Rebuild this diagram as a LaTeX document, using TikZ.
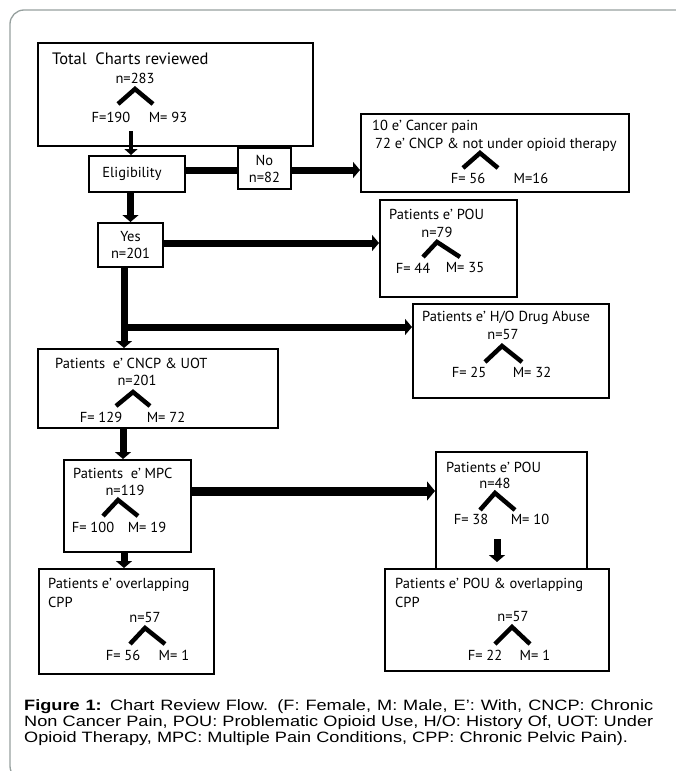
\documentclass[tikz,border=0pt]{standalone}
\usepackage{fontspec}
\setmainfont{PT Sans}
\newfontfamily\capfont[FakeStretch=1.21]{Liberation Sans}
\usetikzlibrary{arrows.meta}
\definecolor{framegray}{RGB}{150,160,158}
\tikzset{
    box/.style={draw, line width=2pt, fill=white, inner sep=0pt, anchor=north west, align=center,
        font=\fontsize{14.5}{17}\selectfont},
    txt/.style={inner sep=0pt, font=\fontsize{14.5}{17}\selectfont},
    title/.style={txt, anchor=west},
    forkline/.style={line width=4.5pt, line join=miter},
    thinarrow/.style={line width=4pt, -{Triangle[length=6pt,width=13pt]}},
    fatline/.style={line width=7pt},
    fatarrow/.style={fatline, -{Triangle[length=7pt,width=16pt]}},
    widearrow/.style={line width=9pt, -{Triangle[length=8pt,width=19pt]}},
}
\begin{document}
\begin{tikzpicture}[x=1pt,y=-1pt]
\useasboundingbox (0,0) rectangle (676,771);
\draw[framegray, line width=1.3pt, rounded corners=14pt] (10,10) rectangle (720,780);

% boxes
\node[box, minimum width=275pt, minimum height=103pt] (total) at (37,42) {};
\node[box, minimum width=96pt, minimum height=36pt] (elig) at (88,155) {Eligibility\hspace{10pt}};
\node[box, minimum width=53pt, minimum height=41pt] (no) at (237,147) {No\\n=82};
\node[box, minimum width=268pt, minimum height=78pt] (cancer) at (360,113) {};
\node[box, minimum width=65pt, minimum height=44pt] (yes) at (97,222) {Yes\\n=201};
\node[box, minimum width=137pt, minimum height=97pt] (pou) at (379,199) {};
\node[box, minimum width=196pt, minimum height=94pt] (drug) at (412,303) {};
\node[box, minimum width=240pt, minimum height=79pt] (cncp) at (37,348) {};
\node[box, minimum width=127pt, minimum height=92pt] (mpc) at (63,459) {};
\node[box, minimum width=151pt, minimum height=117pt] (pousub) at (435,451) {};
\node[box, minimum width=175pt, minimum height=105pt] (cpp) at (38,568) {};
\node[box, minimum width=224pt, minimum height=102pt] (poucpp) at (384,568) {};

% texts and splits
\node[title, font=\fontsize{16.5}{18}\selectfont] (totaltitle) at (52,59) {Total\ \ Charts reviewed};
\node[txt] (totaln) at (135,78) {n=283};
\draw[forkline] (118,104) -- (135,89) -- (153,104);
\node[txt] (totalf) at (111,117) {F=190};
\node[txt] (totalm) at (168,117) {M= 93};

\node[title] (cancertitle) at (372,127) {10 e’ Cancer pain};
\node[title] (cancertext) at (375,145) {72 e’ CNCP \& not under opioid therapy};
\draw[forkline] (463,168) -- (480,153) -- (498,168);
\node[txt] (cancerf) at (468,178) {F= 56};
\node[txt] (cancerm) at (531,178) {M=16};

\node[title] (poutitle) at (389,214) {Patients e’ POU};
\node[txt] (poun) at (437,232) {n=79};
\draw[forkline] (423,257) -- (437,242) -- (460,257);
\node[txt] (pouf) at (413,268) {F= 44};
\node[txt] (poum) at (465,268) {M= 35};

\node[title] (drugtitle) at (422,318) {Patients e’ H/O Drug Abuse};
\node[txt] (drugn) at (503,335) {n=57};
\draw[forkline] (485,362) -- (502,346) -- (522,362);
\node[txt] (drugf) at (469,372) {F= 25};
\node[txt] (drugm) at (532,372) {M= 32};

\node[title] (cncptitle) at (55,363) {Patients\ \ e’ CNCP \& UOT};
\node[txt] (cncpn) at (137,380) {n=201};
\draw[forkline] (116,406) -- (133,392) -- (150,406);
\node[txt] (cncpf) at (101,417) {F= 129};
\node[txt] (cncpm) at (166,417) {M= 72};

\node[title] (mpctitle) at (73,473) {Patients\ \ e’ MPC};
\node[txt] (mpcn) at (125,490) {n=119};
\draw[forkline] (103,516) -- (118,500) -- (138,516);
\node[txt] (mpcf) at (93,527) {F= 100};
\node[txt] (mpcm) at (147,527) {M= 19};

\node[title] (pousubtitle) at (446,467) {Patients e’ POU};
\node[txt] (pousubn) at (495,483) {n=48};
\draw[forkline] (480,510) -- (495,493) -- (515,510);
\node[txt] (pousubf) at (471,519) {F= 38};
\node[txt] (pousubm) at (530,519) {M= 10};

\node[title] (cpptitle) at (48,585) {Patients e’ overlapping};
\node[title] (cppline) at (48,602) {CPP};
\node[txt] (cppn) at (145,618) {n=57};
\draw[forkline] (130,644) -- (145,628) -- (165,644);
\node[txt] (cppf) at (123,655) {F= 56};
\node[txt] (cppm) at (174,655) {M= 1};

\node[title] (poucpptitle) at (395,585) {Patients e’ POU \& overlapping};
\node[title] (poucppline) at (395,602) {CPP};
\node[txt] (poucppn) at (513,617) {n=57};
\draw[forkline] (495,644) -- (512,627) -- (530,644);
\node[txt] (poucppf) at (485,655) {F= 22};
\node[txt] (poucppm) at (535,655) {M= 1};

% connectors
\coordinate (tstart) at (131,131);
\draw[thinarrow] (tstart) -- (tstart |- elig.north);
\draw[fatline] (elig.east |- 0,170) -- (no.west |- 0,170);
\draw[fatarrow] (no.east |- 0,170) -- (cancer.west |- 0,170);
\draw[fatarrow] (yes.north |- elig.south) -- (yes.north);
\draw[fatarrow] (yes.east |- 0,243) -- (pou.west |- 0,243);
\coordinate (branch) at (124,327);
\draw[fatarrow] (branch |- yes.south) -- (branch |- cncp.north);
\draw[fatarrow] (branch) -- (branch -| drug.west);
\draw[fatarrow] (123,0 |- cncp.south) -- (123,0 |- mpc.north);
\draw[widearrow] (mpc.east |- 0,491) -- (pousub.west |- 0,491);
\draw[fatarrow] (124,0 |- mpc.south) -- (124,0 |- cpp.north);
\coordinate (sstart) at (497,539);
\coordinate (send) at (497,562);
\draw[fatarrow] (sstart) -- (send);

% caption
\node[anchor=north west, inner sep=0pt, text width=629pt, align=justify,
    font=\capfont\fontsize{15}{16}\selectfont] (caption) at (24,699)
    {\textbf{Figure 1:} Chart Review Flow. (F: Female, M: Male, E’: With, CNCP: Chronic\linebreak
    Non Cancer Pain, POU: Problematic Opioid Use, H/O: History Of, UOT: Under\linebreak
    Opioid Therapy, MPC: Multiple Pain Conditions, CPP: Chronic Pelvic Pain).};
\end{tikzpicture}
\end{document}
